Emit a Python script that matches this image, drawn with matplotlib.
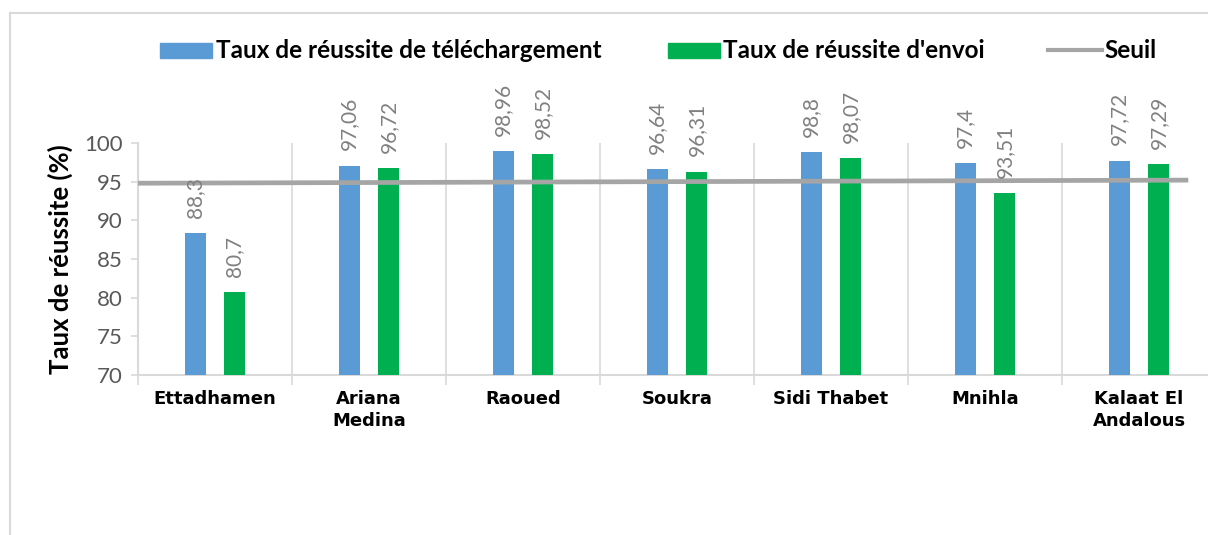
import matplotlib.pyplot as plt
from matplotlib.patches import Rectangle
from matplotlib.lines import Line2D
import numpy as np

# Données
communes = ['Ettadhamen', 'Ariana\nMedina', 'Raoued', 'Soukra', 'Sidi Thabet', 'Mnihla', 'Kalaat El\nAndalous']
taux_telechargement = [88.3, 97.06, 98.96, 96.64, 98.8, 97.4, 97.72]
taux_envoi = [80.7, 96.72, 98.52, 96.31, 98.07, 93.51, 97.29]
seuil_debut = 94.8
seuil_fin = 95.2

blue = '#5B9BD5'
green = '#00B050'
grey_line = '#A5A5A5'
light = '#D9D9D9'

W, H = 1208, 535
fig = plt.figure(figsize=(W / 100, H / 100), dpi=100)
plt.rcParams['font.family'] = ['Lato', 'DejaVu Sans']


def fx(x):
    return x / W


def fy(y):
    return 1 - y / H


# zone du graphique (dépasse à droite comme dans l'original)
ax = fig.add_axes([fx(138), fy(375), 1078 / W, 232 / H])

x = np.arange(len(communes))
off = 0.127
wbar = 0.14
b1 = ax.bar(x - off, taux_telechargement, wbar, color=blue, zorder=3)
b2 = ax.bar(x + off, taux_envoi, wbar, color=green, zorder=3)

for bars, vals in ((b1, taux_telechargement), (b2, taux_envoi)):
    for r, v in zip(bars, vals):
        ax.annotate(f'{v:g}'.replace('.', ','), (r.get_x() + r.get_width() / 2, v),
                    xytext=(0, 11), textcoords='offset points', rotation=90,
                    ha='center', va='bottom', fontsize=15, color='#808080',
                    annotation_clip=False, zorder=5)

# ligne de seuil
xs_end = 6.32
ax.plot([-0.5, xs_end], [seuil_debut, seuil_fin], color=grey_line, lw=3.4,
        zorder=4, clip_on=False, solid_capstyle='butt')

ax.set_xlim(-0.5, len(communes) - 0.5)
ax.set_ylim(70, 100)
ax.set_yticks(range(70, 101, 5))
ax.tick_params(axis='y', labelsize=16, labelcolor='#595959', color=light,
               length=5, width=1.2, pad=6)

ax.set_xticks(np.arange(-0.5, len(communes), 1))
ax.set_xticklabels([])
ax.tick_params(axis='x', which='major', color=light, length=7, width=1.2)
ax.set_xticks(x, minor=True)
ax.set_xticklabels(communes, minor=True, fontsize=13, fontweight='bold',
                   family='DejaVu Sans', linespacing=1.3)
ax.tick_params(axis='x', which='minor', length=0, pad=11)
ax.grid(axis='x', which='major', color=light, lw=1.2, zorder=0)

for s in ('top', 'right'):
    ax.spines[s].set_visible(False)
for s in ('left', 'bottom'):
    ax.spines[s].set_color(light)
    ax.spines[s].set_linewidth(1.5)

ax.set_ylabel('Taux de réussite (%)', fontsize=18.5, fontweight='bold', labelpad=8)

# légende
fs_leg = 17.5
fig.add_artist(Rectangle((fx(160), fy(58)), fx(52), 15 / H, color=blue, transform=fig.transFigure))
fig.text(fx(216), fy(51), 'Taux de réussite de téléchargement', fontsize=fs_leg,
         fontweight='bold', va='center')
fig.add_artist(Rectangle((fx(668), fy(58)), fx(52), 15 / H, color=green, transform=fig.transFigure))
fig.text(fx(723), fy(51), "Taux de réussite d'envoi", fontsize=fs_leg,
         fontweight='bold', va='center')
fig.add_artist(Line2D([fx(1048), fx(1102)], [fy(50), fy(50)], color=grey_line, lw=3,
                      transform=fig.transFigure))
fig.text(fx(1104), fy(51), 'Seuil', fontsize=fs_leg, fontweight='bold', va='center')

# cadre
fig.add_artist(Line2D([fx(10), fx(10)], [fy(13), 0], color=light, lw=1.5,
                      transform=fig.transFigure))
fig.add_artist(Line2D([fx(10), 1], [fy(13), fy(13)], color=light, lw=1.5,
                      transform=fig.transFigure))

fig.savefig('out.png', dpi=100)
